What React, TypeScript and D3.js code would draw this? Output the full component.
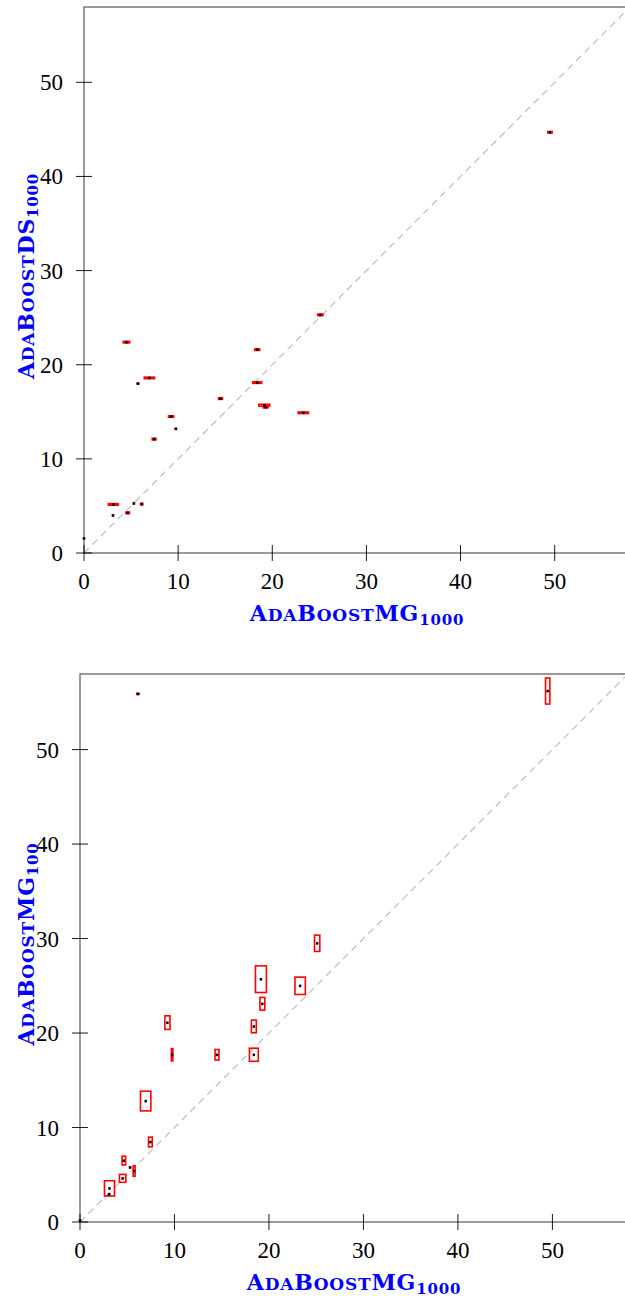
import React from 'react'
import * as d3 from 'd3'

// AdaBoostMG1000 test error (x in both panels) and its spread
const mg1000 = [0, 3.08, 3.12, 4.51, 4.64, 5.3, 5.73, 6.13, 6.95, 7.45, 9.25, 9.75, 14.5, 18.4, 18.4, 19.15, 19.3, 23.3, 25.1, 49.5]
const mg1000Err = [0.05, 0.05, 0.53, 0.34, 0.19, 0.05, 0.1, 0.12, 0.55, 0.2, 0.27, 0.08, 0.21, 0.26, 0.47, 0.58, 0.26, 0.55, 0.28, 0.23]
// AdaBoostDS1000 (top panel y)
const ds1000 = [1.56, 4.0, 5.16, 22.4, 4.27, 5.27, 18.0, 5.2, 18.6, 12.1, 14.5, 13.2, 16.4, 21.6, 18.1, 15.7, 15.5, 14.9, 25.3, 44.7]
const ds1000Err = [0.05, 0.02, 0.08, 0.08, 0.08, 0.02, 0.02, 0.08, 0.08, 0.08, 0.08, 0.02, 0.08, 0.08, 0.08, 0.1, 0.08, 0.08, 0.08, 0.08]
// AdaBoostMG100 (bottom panel y)
const mg100 = [0.15, 2.93, 3.56, 4.62, 6.5, 5.78, 5.4, 55.9, 12.8, 8.47, 21.1, 17.7, 17.7, 20.7, 17.7, 25.7, 23.1, 25.0, 29.5, 56.2]
const mg100Err = [0.05, 0.02, 0.81, 0.42, 0.46, 0.02, 0.56, 0.05, 1.04, 0.51, 0.72, 0.65, 0.56, 0.67, 0.69, 1.41, 0.67, 0.92, 0.86, 1.38]

const ticks = [0, 10, 20, 30, 40, 50]
const domainMax = 58

const serif = "'Liberation Serif', 'DejaVu Serif', serif"
const titleFont = "'DejaVu Serif', serif"

function Title({ sub }) {
  return (
    <>
      <tspan fontSize={22}>A</tspan>
      <tspan fontSize={17}>DA</tspan>
      <tspan fontSize={22}>B</tspan>
      <tspan fontSize={17}>OOST</tspan>
      <tspan fontSize={22}>{sub[0]}</tspan>
      <tspan fontSize={15} dy={4}>{sub[1]}</tspan>
    </>
  )
}

function Panel({ left, bottom, size, ys, yErrs, yName, ySub }) {
  const x = d3.scaleLinear().domain([0, domainMax]).range([left, left + size])
  const y = d3.scaleLinear().domain([0, domainMax]).range([bottom, bottom - size])
  const top = bottom - size
  const cx = left + size / 2
  const cy = bottom - size / 2 - 4

  return (
    <g>
      <line x1={x(0)} y1={y(0)} x2={x(domainMax)} y2={y(domainMax)}
        stroke="#bbb" strokeWidth={1.2} strokeDasharray="7 5" />
      <rect x={left} y={top} width={size} height={size} fill="none" stroke="#666" strokeWidth={1.3} />
      {ticks.map(t => (
        <g key={'x' + t}>
          <line x1={x(t)} x2={x(t)} y1={bottom - 8} y2={bottom + 8} stroke="#000" strokeWidth={0.9} />
          <text x={x(t)} y={bottom + 36} textAnchor="middle" fontFamily={serif} fontSize={23}>{t}</text>
        </g>
      ))}
      {ticks.map(t => (
        <g key={'y' + t}>
          <line x1={left - 8} x2={left + 8} y1={y(t)} y2={y(t)} stroke="#000" strokeWidth={0.9} />
          <text x={left - 21} y={y(t)} dy="0.35em" textAnchor="end" fontFamily={serif} fontSize={23}>{t}</text>
        </g>
      ))}
      {mg1000.map((v, i) => (
        <rect key={'e' + i}
          x={x(v - mg1000Err[i])} y={y(ys[i] + yErrs[i])}
          width={x(v + mg1000Err[i]) - x(v - mg1000Err[i])}
          height={y(ys[i] - yErrs[i]) - y(ys[i] + yErrs[i])}
          fill="none" stroke="#f00" strokeWidth={1.6} />
      ))}
      {mg1000.map((v, i) => (
        <rect key={'p' + i} x={x(v) - 1.2} y={y(ys[i]) - 1.2} width={2.4} height={2.6} fill="#000" />
      ))}
      <text x={cx} y={bottom + 68} textAnchor="middle" fontFamily={titleFont} fontWeight="bold"
        fill="#0000ff" letterSpacing={0.8}>
        <Title sub={['MG', '1000']} />
      </text>
      <text transform={`translate(34, ${cy}) rotate(-90)`} textAnchor="middle" fontFamily={titleFont}
        fontWeight="bold" fill="#0000ff" letterSpacing={0.8}>
        <Title sub={[yName, ySub]} />
      </text>
    </g>
  )
}

export default function App() {
  return (
    <svg width={625} height={1298} style={{ position: 'absolute', left: 0, top: 0, background: '#fff' }}>
      <Panel left={84} bottom={553} size={546} ys={ds1000} yErrs={ds1000Err} yName="DS" ySub="1000" />
      <Panel left={80} bottom={1222} size={548} ys={mg100} yErrs={mg100Err} yName="MG" ySub="100" />
    </svg>
  )
}
